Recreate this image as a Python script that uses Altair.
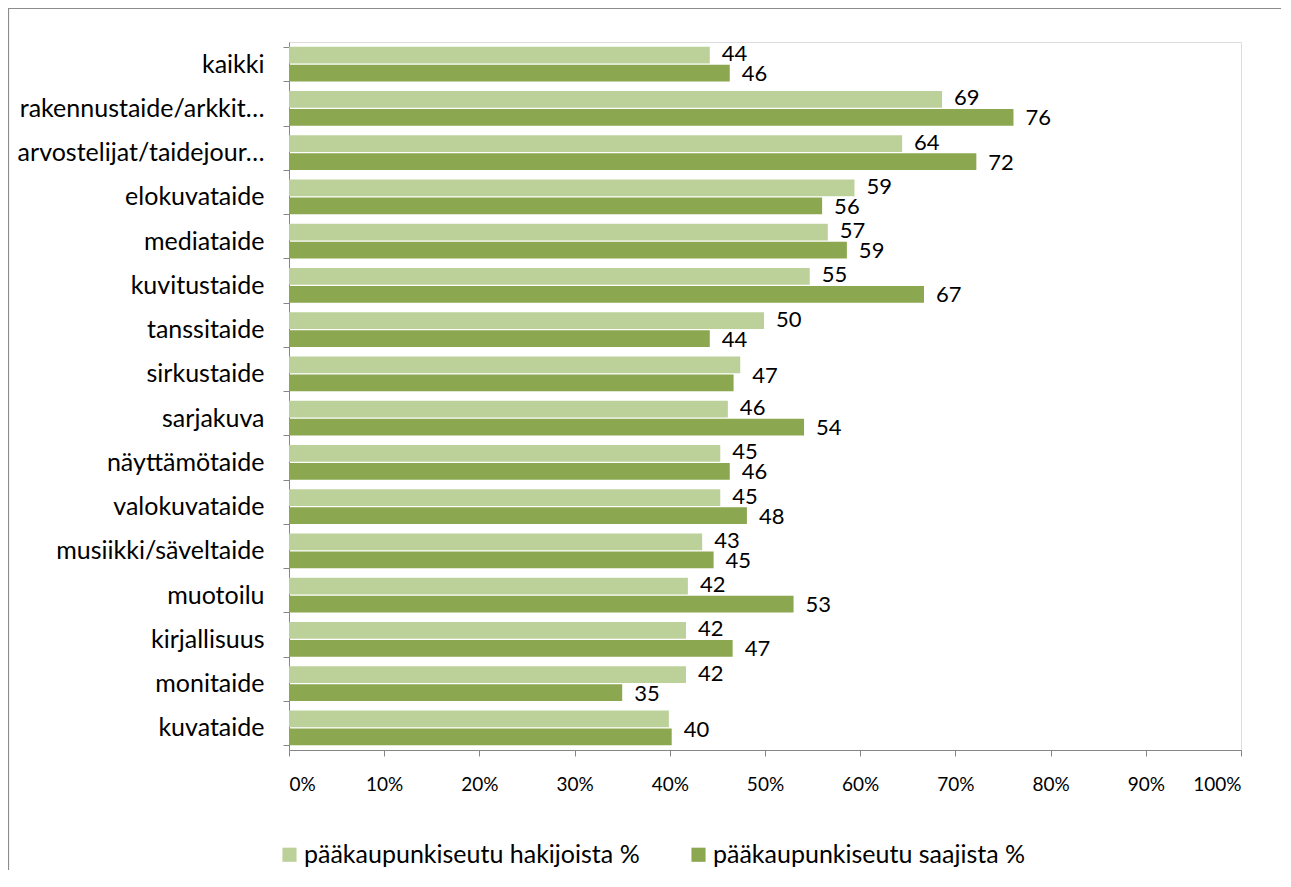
import altair as alt
import pandas as pd

categories = ["kaikki", "rakennustaide/arkkit…", "arvostelijat/taidejour…", "elokuvataide",
              "mediataide", "kuvitustaide", "tanssitaide", "sirkustaide", "sarjakuva",
              "näyttämötaide", "valokuvataide", "musiikki/säveltaide", "muotoilu",
              "kirjallisuus", "monitaide", "kuvataide"]
series = ["pääkaupunkiseutu hakijoista %", "pääkaupunkiseutu saajista %"]
hakijat = [44.2, 68.6, 64.4, 59.4, 56.6, 54.7, 49.9, 47.4, 46.1, 45.3, 45.3, 43.4, 41.9, 41.7, 41.7, 39.9]
saajat = [46.3, 76.1, 72.2, 56.0, 58.6, 66.7, 44.2, 46.7, 54.1, 46.3, 48.1, 44.6, 53.0, 46.6, 35.0, 40.2]
hakijat_labels = ["44", "69", "64", "59", "57", "55", "50", "", "46", "45", "45", "43", "42", "42", "42", ""]
saajat_labels = ["46", "76", "72", "56", "59", "67", "44", "", "54", "46", "48", "45", "53", "47", "35", ""]
shared_labels = ["", "", "", "", "", "", "", "47", "", "", "", "", "", "", "", "40"]
colors = ["#BCD19A", "#8BA750"]

rows = []
for i, c in enumerate(categories):
    rows.append({"cat": c, "series": series[0], "value": hakijat[i], "label": hakijat_labels[i]})
    rows.append({"cat": c, "series": series[1], "value": saajat[i], "label": saajat_labels[i]})
df = pd.DataFrame(rows)
df_shared = pd.DataFrame({"cat": categories, "value": [max(a, b) for a, b in zip(hakijat, saajat)],
                          "label": shared_labels})
df_shared = df_shared[df_shared["label"] != ""]
df_lab = df[df["label"] != ""]

FONT = "Lato"
yscale = alt.Scale(domain=categories, paddingInner=0.22, paddingOuter=0.11)
yaxis = alt.Axis(title=None, tickBand="extent", tickSize=6, tickColor="#868686",
                 domainColor="#868686", labelFontSize=25, labelColor="#000000",
                 labelPadding=19, labelFont=FONT, labelLimit=400)
xscale = alt.Scale(domain=[0, 100], nice=False)
xaxis = alt.Axis(title=None, values=list(range(0, 101, 10)), labelExpr="datum.value + '%'",
                 grid=False, tickSize=6, tickColor="#868686", domainColor="#868686",
                 labelFontSize=19, labelColor="#000000", labelPadding=19, labelFont=FONT)
yoff = alt.Scale(domain=series, paddingInner=0.06)

bars = alt.Chart(df).mark_bar().encode(
    y=alt.Y("cat:N", scale=yscale, axis=yaxis, sort=categories),
    yOffset=alt.YOffset("series:N", scale=yoff),
    x=alt.X("value:Q", scale=xscale, axis=xaxis),
    color=alt.Color("series:N", scale=alt.Scale(domain=series, range=colors),
                    legend=alt.Legend(title=None, orient="none", direction="horizontal",
                                      legendX=-12, legendY=800, symbolType="square",
                                      symbolSize=200, symbolStrokeWidth=0, labelFontSize=25,
                                      labelFont=FONT, labelColor="#000000", columnPadding=46,
                                      labelOffset=2, labelLimit=500)),
)


def label_layer(sname, dy):
    return alt.Chart(df_lab[df_lab["series"] == sname]).mark_text(
        align="left", baseline="middle", dx=12, dy=dy, fontSize=22, font=FONT, color="#000000"
    ).encode(
        y=alt.Y("cat:N", scale=yscale, sort=categories),
        yOffset=alt.YOffset("series:N", scale=yoff),
        x=alt.X("value:Q", scale=xscale),
        text="label:N",
    )


texts_h = label_layer(series[0], -1)
texts_s = label_layer(series[1], 1)

shared = alt.Chart(df_shared).mark_text(align="left", baseline="middle", dx=12, dy=2, fontSize=22,
                                        font=FONT, color="#000000").encode(
    y=alt.Y("cat:N", scale=yscale, sort=categories),
    x=alt.X("value:Q", scale=xscale),
    text="label:N",
)

border = alt.Chart(pd.DataFrame({"a": [0]})).mark_rect(fill="#FFFFFF", fillOpacity=0,
                                                         stroke="#8C8C8C", strokeWidth=1.2,
                                                         clip=False).encode(
    x=alt.value(-280.5), x2=alt.value(1001), y=alt.value(-33.5), y2=alt.value(850)
)

chart = alt.layer(border, bars, texts_h, texts_s, shared).properties(
    width=952, height=708,
    autosize=alt.AutoSizeParams(type="none"),
    padding={"left": 281, "top": 34, "right": 40, "bottom": 120},
).configure_view(stroke=None).configure(background="#FFFFFF")

chart.save("out.html", embed_options={"renderer": "svg", "actions": False})
